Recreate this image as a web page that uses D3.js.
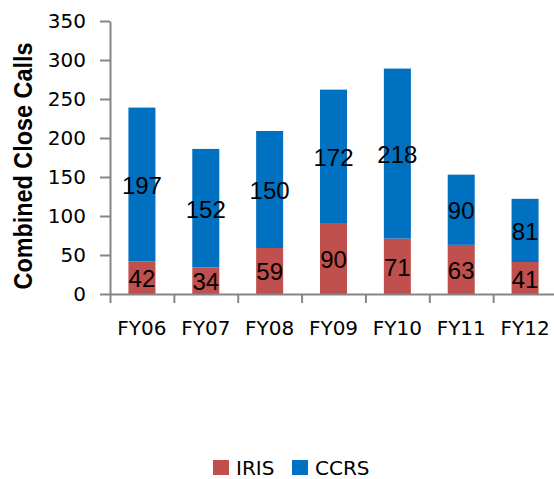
<!DOCTYPE html>
<html>
<head>
<meta charset="utf-8">
<script src="https://cdn.jsdelivr.net/npm/d3@7"></script>
<style>
  body { margin: 0; background: #fff; }
  .axis path, .axis line { stroke: #868686; stroke-width: 2; }
  .axis text { font-family: "DejaVu Sans", sans-serif; font-size: 20px; fill: #000; }
</style>
</head>
<body>
<div id="chart"></div>
<script>
var years = ["FY06", "FY07", "FY08", "FY09", "FY10", "FY11", "FY12"];
var iris = [42, 34, 59, 90, 71, 63, 41];
var ccrs = [197, 152, 150, 172, 218, 90, 81];
var yTicks = [0, 50, 100, 150, 200, 250, 300, 350];
var seriesNames = ["IRIS", "CCRS"];
var colors = ["#C0504D", "#0070C0"];

var svg = d3.select("#chart").append("svg").attr("width", 554).attr("height", 479),
  margin = {top: 21, left: 110},
  width = 447,
  height = 273,
  g = svg.append("g").attr("transform", "translate(" + margin.left + "," + margin.top + ")");

var x = d3.scaleBand()
  .domain(years)
  .range([0, width])
  .paddingInner(0.577)
  .paddingOuter(0.2885);

var xEdge = d3.scaleLinear().domain([0, years.length]).range([0, width]);

var y = d3.scaleLinear().domain([0, 350]).range([height, 0]);

var z = d3.scaleOrdinal().domain(seriesNames).range(colors);

// rows for stacking
var rows = years.map(function (yr, i) {
  return {year: yr, IRIS: iris[i], CCRS: ccrs[i]};
});
var stacked = d3.stack().keys(seriesNames)(rows);

var serie = g.selectAll(".serie")
  .data(stacked)
  .enter().append("g")
  .attr("class", "serie")
  .attr("fill", function (d) { return z(d.key); });

serie.selectAll("rect")
  .data(function (d) { return d; })
  .enter().append("rect")
  .attr("x", function (d) { return x(d.data.year); })
  .attr("y", function (d) { return y(d[1]); })
  .attr("width", x.bandwidth())
  .attr("height", function (d) { return y(d[0]) - y(d[1]); });

// data labels
serie.selectAll("text")
  .data(function (d) { return d; })
  .enter().append("text")
  .attr("x", function (d) { return x(d.data.year) + x.bandwidth() / 2; })
  .attr("y", function (d) { return (y(d[0]) + y(d[1])) / 2 + 1; })
  .attr("text-anchor", "middle")
  .attr("dominant-baseline", "central")
  .style("font-family", "'Liberation Sans', Arial, sans-serif")
  .style("font-size", "24px")
  .attr("fill", "#000")
  .text(function (d) { return d[1] - d[0]; });

// y axis
g.append("g")
  .attr("class", "axis axis--y")
  .call(d3.axisLeft(y).tickValues(yTicks).tickSize(10).tickPadding(14).tickSizeOuter(0));

// x axis: boundary ticks
g.append("g")
  .attr("class", "axis axis--x")
  .attr("transform", "translate(0," + height + ")")
  .call(d3.axisBottom(xEdge).ticks(years.length).tickSize(9).tickSizeOuter(0).tickFormat(""));

// x labels
var xl = g.append("g")
  .attr("class", "axis axis--xl")
  .attr("transform", "translate(0," + height + ")")
  .call(d3.axisBottom(x).tickSize(0).tickPadding(27));
xl.select(".domain").remove();

// y title
svg.append("text")
  .attr("transform", "translate(32," + (margin.top + 145) + ") rotate(-90)")
  .attr("text-anchor", "middle")
  .style("font-family", "'Liberation Sans', Arial, sans-serif")
  .style("font-weight", "bold")
  .style("font-size", "25px")
  .attr("textLength", 247)
  .attr("lengthAdjust", "spacingAndGlyphs")
  .text("Combined Close Calls");

// legend
var legend = svg.selectAll(".legend")
  .data(seriesNames)
  .enter().append("g")
  .attr("class", "legend")
  .attr("transform", function (d, i) { return "translate(" + [213, 292][i] + ",460)"; });

legend.append("rect")
  .attr("width", 16)
  .attr("height", 15)
  .attr("fill", function (d) { return z(d); });

legend.append("text")
  .attr("x", 23)
  .attr("y", 15)
  .style("font-family", "'DejaVu Sans', sans-serif")
  .style("font-size", "20px")
  .text(function (d) { return d; });
</script>
</body>
</html>
